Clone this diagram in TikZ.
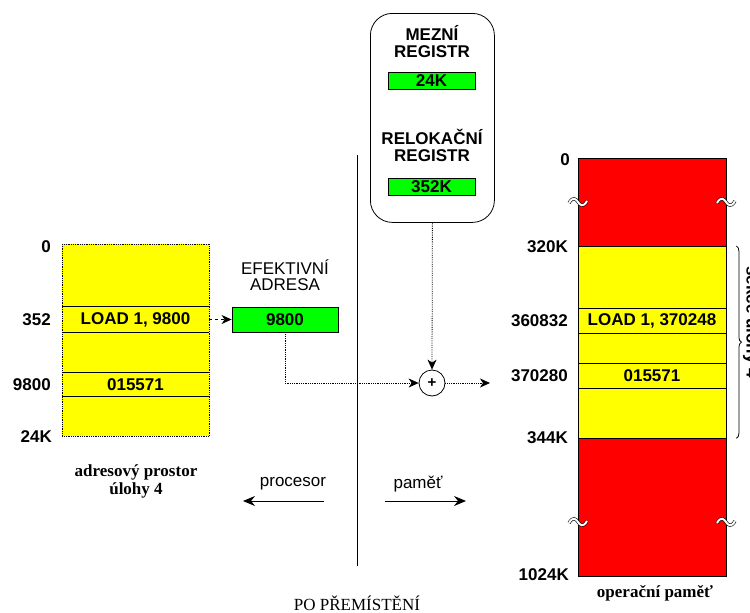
\documentclass[tikz,border=0pt]{standalone}
\usepackage{fontspec}
\setmainfont{Liberation Serif}
\setsansfont{Liberation Sans}
\usetikzlibrary{arrows.meta,decorations.pathreplacing}
\definecolor{myyellow}{RGB}{255,255,0}
\definecolor{myred}{RGB}{255,0,0}
\definecolor{mygreen}{RGB}{0,255,0}
\tikzset{
  lab/.style={font=\sffamily\bfseries\fontsize{17}{17}\selectfont, inner sep=0pt},
  labreg/.style={font=\sffamily\fontsize{17}{16}\selectfont, inner sep=0pt, align=center},
  serifb/.style={font=\rmfamily\bfseries\fontsize{17}{18}\selectfont, inner sep=0pt, align=center},
  greenbox/.style={draw, fill=mygreen, line width=0.8pt, inner sep=0pt, font=\sffamily\bfseries\fontsize{17}{17}\selectfont},
  rowbox/.style={inner sep=0pt, minimum width=147pt, font=\sffamily\bfseries\fontsize{17}{17}\selectfont},
  dotline/.style={densely dotted, line width=0.8pt},
  tip/.style={-{Stealth[length=10pt,width=9pt,inset=3pt]}},
  bigtip/.style={-{Stealth[length=12pt,width=10pt,inset=4pt]}},
  wavebreak/.pic={\draw[double=white, double distance=2pt, line width=0.6pt]
      (-9,1) .. controls (-5,-6) and (-2,-3) .. (0,0) .. controls (2,3) and (5,6) .. (9,-1);}
}
\begin{document}
\begin{tikzpicture}[x=1pt,y=-1pt]
\useasboundingbox (0,0) rectangle (750,613);

% ---------- left address space ----------
\node[fill=myyellow, minimum width=147pt, minimum height=192pt, inner sep=0, anchor=north west] (abox) at (62,244) {};
\node[rowbox, minimum height=25pt] (arow1) at (135.5,319.5) {LOAD 1, 9800};
\node[rowbox, minimum height=23pt] (arow2) at (135.5,384.5) {015571};
\draw[line width=0.8pt] (arow1.north west) -- (arow1.north east) (arow1.south west) -- (arow1.south east);
\draw[line width=0.8pt] (arow2.north west) -- (arow2.north east) (arow2.south west) -- (arow2.south east);
\draw[densely dotted, line width=0.8pt] (abox.north west) rectangle (abox.south east);

\node[lab, anchor=east] (a0) at (51,247) {0};
\node[lab, anchor=east] (a352) at (51,320) {352};
\node[lab, anchor=east] (a9800) at (51,385) {9800};
\node[lab, anchor=east] (a24k) at (52,437) {24K};
\node[serifb] (acap) at (136,481) {adresový prostor\\úlohy 4};

% ---------- effective address ----------
\node[labreg] (efcap) at (285,275) {EFEKTIVNÍ\\ADRESA};
\node[greenbox, minimum width=106pt, minimum height=25pt] (eff) at (285,319.5) {9800};
\draw[dashed, line width=0.8pt, tip] (arow1.east) -- (eff.west);

% ---------- registers ----------
\node[draw, rounded corners=22pt, line width=0.8pt, minimum width=124pt, minimum height=209pt, inner sep=0, anchor=north west] (regs) at (370,13) {};
\node[lab, align=center, font=\sffamily\bfseries\fontsize{17}{17}\selectfont] (mezcap) at (432,41.5) {MEZNÍ\\REGISTR};
\node[greenbox, minimum width=87pt, minimum height=17pt] (mez) at (431.5,81) {24K};
\node[lab, align=center, font=\sffamily\bfseries\fontsize{17}{17}\selectfont] (relcap) at (432,145) {RELOKAČNÍ\\REGISTR};
\node[greenbox, minimum width=87pt, minimum height=17pt] (rel) at (431.5,186.5) {352K};

% ---------- adder ----------
\node[circle, draw, fill=white, line width=0.8pt, minimum size=26pt, inner sep=0,
      font=\sffamily\bfseries\fontsize{15}{15}\selectfont] (plus) at (432,383) {+};
\draw[dotline, tip] (regs.south) -- (plus.north);
\draw[dotline, tip] (eff.south) |- (plus.west);
\coordinate (out) at (490,383);
\draw[dotline, tip] (plus.east) -- (out);

% ---------- divider ----------
\coordinate (vtop) at (357,155);
\coordinate (vbot) at (357,566);
\draw[line width=0.9pt] (vtop) -- (vbot);
\node[labreg] (proc) at (293,484) {procesor};
\node[labreg] (pam) at (418,484) {paměť};
\coordinate (p1) at (324,501); \coordinate (p2) at (243,501);
\coordinate (m1) at (385,501); \coordinate (m2) at (466,501);
\draw[line width=1pt, bigtip] (p1) -- (p2);
\draw[line width=1pt, bigtip] (m1) -- (m2);
\node[font=\rmfamily\fontsize{17}{17}\selectfont, inner sep=0] (title) at (357,603) {PO PŘEMÍSTĚNÍ};

% ---------- main memory ----------
\node[fill=myred, minimum width=148pt, minimum height=418pt, inner sep=0, anchor=north west] (mem) at (578,158) {};
\node[fill=myyellow, minimum width=148pt, minimum height=192pt, inner sep=0, anchor=north west] (sec) at (578,246) {};
\node[rowbox, minimum width=148pt, minimum height=24pt] (mrow1) at (652,321) {LOAD 1, 370248};
\node[rowbox, minimum width=148pt, minimum height=24pt] (mrow2) at (652,376) {015571};
\draw[line width=0.8pt] (sec.north west) -- (sec.north east) (sec.south west) -- (sec.south east);
\draw[line width=0.8pt] (mrow1.north west) -- (mrow1.north east) (mrow1.south west) -- (mrow1.south east);
\draw[line width=0.8pt] (mrow2.north west) -- (mrow2.north east) (mrow2.south west) -- (mrow2.south east);
\draw[line width=0.8pt] (mem.north west) rectangle (mem.south east);

\pic at (578,202) {wavebreak};
\pic at (726,202) {wavebreak};
\pic at (578,522) {wavebreak};
\pic at (726,522) {wavebreak};

\node[lab, anchor=east] (m0) at (570,160) {0};
\node[lab, anchor=east] (m320) at (568,247) {320K};
\node[lab, anchor=east] (m360) at (568,321) {360832};
\node[lab, anchor=east] (m370) at (568,376) {370280};
\node[lab, anchor=east] (m344) at (568,438) {344K};
\node[lab, anchor=east] (m1024) at (569,575) {1024K};
\node[serifb] (memcap) at (655,593) {operační paměť};

\draw[line width=0.8pt, decorate, decoration={brace, amplitude=5pt}]
  ([xshift=10pt]sec.north east) -- ([xshift=10pt]sec.south east);
\node[lab, rotate=-90] (sekce) at (751,322) {sekce úlohy 4};
\end{tikzpicture}
\end{document}
